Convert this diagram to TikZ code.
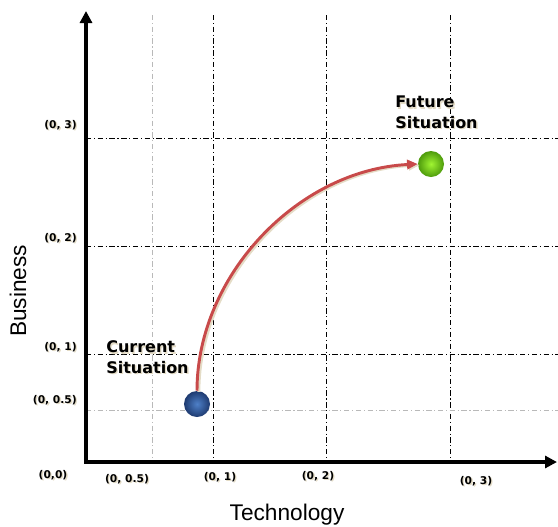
\documentclass[tikz,border=0pt]{standalone}
\usepackage{fontspec}
\setmainfont{DejaVu Sans}
\newfontfamily\axisfont{Liberation Sans}
\usepackage{tikz}
\usetikzlibrary{arrows, arrows.meta, positioning, shadows}
\definecolor{trail}{RGB}{228,220,198}
\definecolor{arcred}{RGB}{200,74,74}
\definecolor{blueinner}{RGB}{78,128,200}
\definecolor{blueouter}{RGB}{30,58,112}
\definecolor{greeninner}{RGB}{160,245,50}
\definecolor{greenouter}{RGB}{78,155,12}
\newcommand{\shtext}[1]{\rlap{\hspace{1pt}\raisebox{-1pt}{\textcolor{trail}{#1}}}#1}
\tikzstyle{axis} = [line width=3pt, {Triangle[length=9pt,width=9pt]}-{Triangle[length=9pt,width=9pt]}]
\tikzstyle{gridmain} = [line width=0.6pt, dash pattern=on 4pt off 2pt on 0.8pt off 2pt]
\tikzstyle{gridhalf} = [gridmain, gray!55]
\tikzstyle{ticklabel} = [inner sep=0pt, font=\bfseries\fontsize{8}{9}\selectfont]
\tikzstyle{situation} = [inner sep=0pt, anchor=west, align=left, font=\bfseries\fontsize{12}{15.5}\selectfont]
\tikzstyle{axistitle} = [inner sep=0pt, font=\axisfont\fontsize{17}{20}\selectfont]
\tikzstyle{ball} = [circle, inner sep=0pt, minimum size=19.5pt, shading=radial]
\tikzstyle{move} = [draw=arcred, line width=2.2pt, -{Triangle[length=8pt,width=7pt]}, preaction={draw=trail, line width=2.2pt, transform canvas={xshift=1.4pt,yshift=-0.8pt}}]

\begin{document}
\begin{tikzpicture}[x=0.75pt, y=-0.75pt]
	\useasboundingbox (0,0) rectangle (558,526);
	\coordinate (origin) at (86,462);
	\coordinate (ytop) at (86,11);
	\coordinate (xend) at (557,462);
	\foreach \x in {213,326,450}
		\draw[gridmain] (\x,15) -- (\x,462);
	\draw[gridhalf] (152,15) -- (152,462);
	\foreach \y in {138,246,354}
		\draw[gridmain] (86,\y) -- (558,\y);
	\draw[gridhalf] (86,410) -- (558,410);
	\draw[axis] (ytop) -- (origin) -- (xend);
	\node[ticklabel, anchor=east] (y3) at (77,126) {\shtext{(0, 3)}};
	\node[ticklabel, anchor=east] (y2) at (77,239) {\shtext{(0, 2)}};
	\node[ticklabel, anchor=east] (y1) at (77,348) {\shtext{(0, 1)}};
	\node[ticklabel, anchor=east] (yhalf) at (77,401) {\shtext{(0, 0.5)}};
	\node[ticklabel] (zero) at (53,476) {\shtext{(0,0)}};
	\node[ticklabel] (xhalf) at (127,480) {\shtext{(0, 0.5)}};
	\node[ticklabel] (x1) at (220,478) {\shtext{(0, 1)}};
	\node[ticklabel] (x2) at (318,477) {\shtext{(0, 2)}};
	\node[ticklabel] (x3) at (476,482) {\shtext{(0, 3)}};
	\node[axistitle] (tech) at (287,515) {Technology};
	\node[axistitle, rotate=90] (business) at (18,291) {Business};
	\node[ball, inner color=blueinner, outer color=blueouter] (now) at (197,404) {};
	\node[ball, inner color=greeninner, outer color=greenouter] (goal) at (431,164) {};
	\node[situation] (nowtext) at (106,358) {\shtext{Current}\\\shtext{Situation}};
	\node[situation] (goaltext) at (395,113) {\shtext{Future}\\\shtext{Situation}};
	\draw[move] (now.north) .. controls +(0,-115) and +(-120,6) .. (goal.west);
\end{tikzpicture}
\end{document}
